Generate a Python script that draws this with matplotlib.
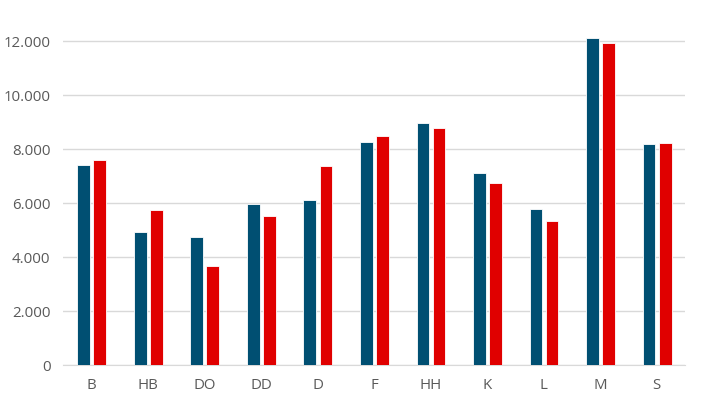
import numpy as np
import matplotlib.pyplot as plt
from matplotlib.ticker import FuncFormatter

categories = ["B", "HB", "DO", "DD", "D", "F", "HH", "K", "L", "M", "S"]
series_a = [7430, 4930, 4740, 5975, 6120, 8260, 8985, 7110, 5780, 12120, 8210]
series_b = [7590, 5740, 3690, 5520, 7390, 8490, 8780, 6740, 5360, 11940, 8220]
y_ticks = [0, 2000, 4000, 6000, 8000, 10000, 12000]

plt.rcParams['font.family'] = ['Open Sans', 'DejaVu Sans']

fig = plt.figure(figsize=(7.03, 3.96), dpi=100)
ax = fig.add_axes([63 / 703, 30.7 / 396, 622 / 703, 340 / 396])

x = np.arange(len(categories))
w = 0.225
ax.bar(x - 0.135, series_a, width=w, color="#004F72", edgecolor="white", linewidth=0.6, zorder=3)
ax.bar(x + 0.15, series_b, width=w, color="#E00000", edgecolor="white", linewidth=0.6, zorder=3)

ax.set_xlim(-0.5, len(categories) - 0.5)
ax.set_ylim(0, 12593)
ax.set_yticks(y_ticks)
ax.yaxis.set_major_formatter(FuncFormatter(lambda v, p: f"{int(v):,}".replace(",", ".")))
ax.set_xticks(x)
ax.set_xticklabels(categories)

ax.grid(axis="y", color="#D9D9D9", linewidth=1, zorder=0)
for s in ["top", "right", "left"]:
    ax.spines[s].set_visible(False)
ax.spines["bottom"].set_color("#D9D9D9")
ax.tick_params(axis="both", length=0, labelsize=10.8, labelcolor="#595959")
ax.tick_params(axis="x", pad=9)
ax.tick_params(axis="y", pad=9)

fig.savefig("out.png", dpi=100)
